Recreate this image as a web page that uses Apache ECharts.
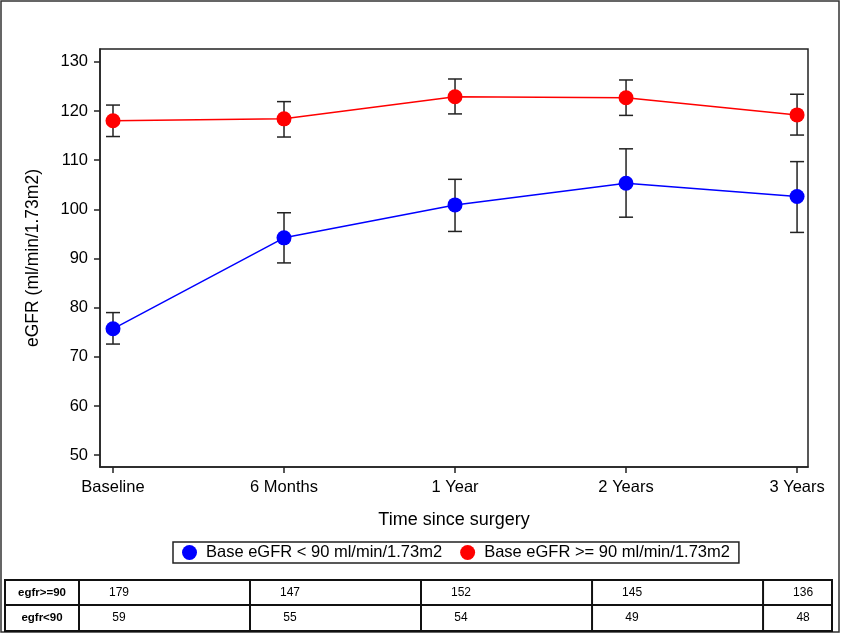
<!DOCTYPE html>
<html><head><meta charset="utf-8">
<script src="https://cdn.jsdelivr.net/npm/echarts@6/dist/echarts.min.js"></script>
<style>html,body{margin:0;padding:0;background:#fff}#c{width:843px;height:634px}</style>
</head><body><div id="c"></div>
<script>
const categories = ['Baseline', '6 Months', '1 Year', '2 Years', '3 Years'];
const yTicks = [50, 60, 70, 80, 90, 100, 110, 120, 130];
const lowName = 'Base eGFR < 90 ml/min/1.73m2';
const highName = 'Base eGFR >= 90 ml/min/1.73m2';
const lowMean = [75.7, 94.2, 100.9, 105.3, 102.6];
const lowLower = [72.6, 89.1, 95.5, 98.4, 95.3];
const lowUpper = [79.0, 99.3, 106.1, 112.3, 109.7];
const highMean = [118.0, 118.4, 122.9, 122.7, 119.2];
const highLower = [114.8, 114.7, 119.4, 119.1, 115.1];
const highUpper = [121.2, 121.9, 126.5, 126.3, 123.4];
const tableRowLabels = ['egfr>=90', 'egfr<90'];
const nHigh = [179, 147, 152, 145, 136];
const nLow = [59, 55, 54, 49, 48];

const FONT = 'Arial, "Liberation Sans", sans-serif';
const chart = echarts.init(document.getElementById('c'), null, {renderer: 'canvas'});

function errSeries(lower, upper) {
  return {
    type: 'custom',
    silent: true,
    z: 3,
    data: lower.map((l, i) => [i, l, upper[i]]),
    renderItem: function (params, api) {
      const x = api.value(0);
      const lo = api.coord([x, api.value(1)]);
      const hi = api.coord([x, api.value(2)]);
      const w = 7;
      const st = {stroke: '#222', lineWidth: 1.5};
      return {type: 'group', children: [
        {type: 'line', shape: {x1: lo[0], y1: lo[1], x2: hi[0], y2: hi[1]}, style: st},
        {type: 'line', shape: {x1: lo[0]-w, y1: lo[1], x2: lo[0]+w, y2: lo[1]}, style: st},
        {type: 'line', shape: {x1: hi[0]-w, y1: hi[1], x2: hi[0]+w, y2: hi[1]}, style: st}
      ]};
    }
  };
}

const option = {
  animation: false,
  backgroundColor: '#fff',
  textStyle: {fontFamily: FONT},
  grid: {left: 100, top: 49, width: 708, height: 418, show: true, borderColor: '#222', borderWidth: 1.5, backgroundColor: 'transparent'},
  xAxis: {
    type: 'value', min: -0.076, max: 4.064,
    name: 'Time since surgery', nameLocation: 'middle', nameGap: 44,
    nameTextStyle: {fontSize: 18, color: '#000', fontFamily: FONT},
    splitLine: {show: false},
    axisLine: {show: true, onZero: false, lineStyle: {color: '#222', width: 1.5}},
    axisTick: {show: true, length: 6, lineStyle: {color: '#222', width: 1.5}, customValues: [0, 1, 2, 3, 4]},
    axisLabel: {customValues: [0, 1, 2, 3, 4], formatter: v => categories[Math.round(v)], fontSize: 16.5, color: '#000', margin: 12, fontFamily: FONT}
  },
  yAxis: {
    type: 'value', min: 47.6, max: 132.6,
    name: 'eGFR (ml/min/1.73m2)', nameLocation: 'middle', nameGap: 58,
    nameTextStyle: {fontSize: 17.5, color: '#000', fontFamily: FONT},
    splitLine: {show: false},
    axisLine: {show: true, onZero: false, lineStyle: {color: '#222', width: 1.5}},
    axisTick: {show: true, length: 6, lineStyle: {color: '#222', width: 1.5}, customValues: yTicks},
    axisLabel: {customValues: yTicks, fontSize: 16.5, color: '#000', margin: 12, fontFamily: FONT}
  },
  legend: {
    left: 173, top: 542, itemWidth: 15, itemHeight: 15, itemGap: 18,
    borderColor: '#222', borderWidth: 1.5, padding: [2, 9, 2, 9],
    icon: 'circle',
    textStyle: {fontSize: 16.5, color: '#000', fontFamily: FONT, padding: [0, 0, 0, 4]},
    data: [lowName, highName]
  },
  series: [
    errSeries(lowLower, lowUpper),
    errSeries(highLower, highUpper),
    {name: lowName, type: 'line', z: 4, data: lowMean.map((v, i) => [i, v]), symbol: 'circle', symbolSize: 15,
      itemStyle: {color: '#0000ff'}, lineStyle: {color: '#0000ff', width: 1.5}},
    {name: highName, type: 'line', z: 4, data: highMean.map((v, i) => [i, v]), symbol: 'circle', symbolSize: 15,
      itemStyle: {color: '#ff0000'}, lineStyle: {color: '#ff0000', width: 1.5}}
  ]
};
chart.setOption(option);

// Build table + outer border
const xs = categories.map((c, i) => chart.convertToPixel({xAxisIndex: 0}, i));
const tTop = 580, tMid = 605, tBot = 631, tLeft = 5, tRight = 832;
const g = [];
g.push({type: 'rect', shape: {x: 1, y: 1, width: 838, height: 631}, style: {fill: 'none', stroke: '#333', lineWidth: 1.5}, silent: true});
g.push({type: 'rect', shape: {x: tLeft, y: tTop, width: tRight - tLeft, height: tBot - tTop}, style: {fill: 'none', stroke: '#111', lineWidth: 2}, silent: true});
g.push({type: 'line', shape: {x1: tLeft, y1: tMid, x2: tRight, y2: tMid}, style: {stroke: '#111', lineWidth: 2}, silent: true});
xs.forEach(x => {
  g.push({type: 'line', shape: {x1: x - 34, y1: tTop, x2: x - 34, y2: tBot}, style: {stroke: '#111', lineWidth: 2}, silent: true});
});
const rows = [nHigh, nLow];
const rowY = [(tTop + tMid) / 2, (tMid + tBot) / 2];
tableRowLabels.forEach((lab, r) => {
  g.push({type: 'text', x: (tLeft + xs[0] - 34) / 2, y: rowY[r], style: {text: lab, fontSize: 11.5, fontWeight: 'bold', fontFamily: FONT, fill: '#000', align: 'center', verticalAlign: 'middle'}, silent: true});
  rows[r].forEach((n, i) => {
    g.push({type: 'text', x: xs[i] + 6, y: rowY[r], style: {text: String(n), fontSize: 12, fontFamily: FONT, fill: '#000', align: 'center', verticalAlign: 'middle'}, silent: true});
  });
});
chart.setOption({graphic: g});
</script></body></html>
